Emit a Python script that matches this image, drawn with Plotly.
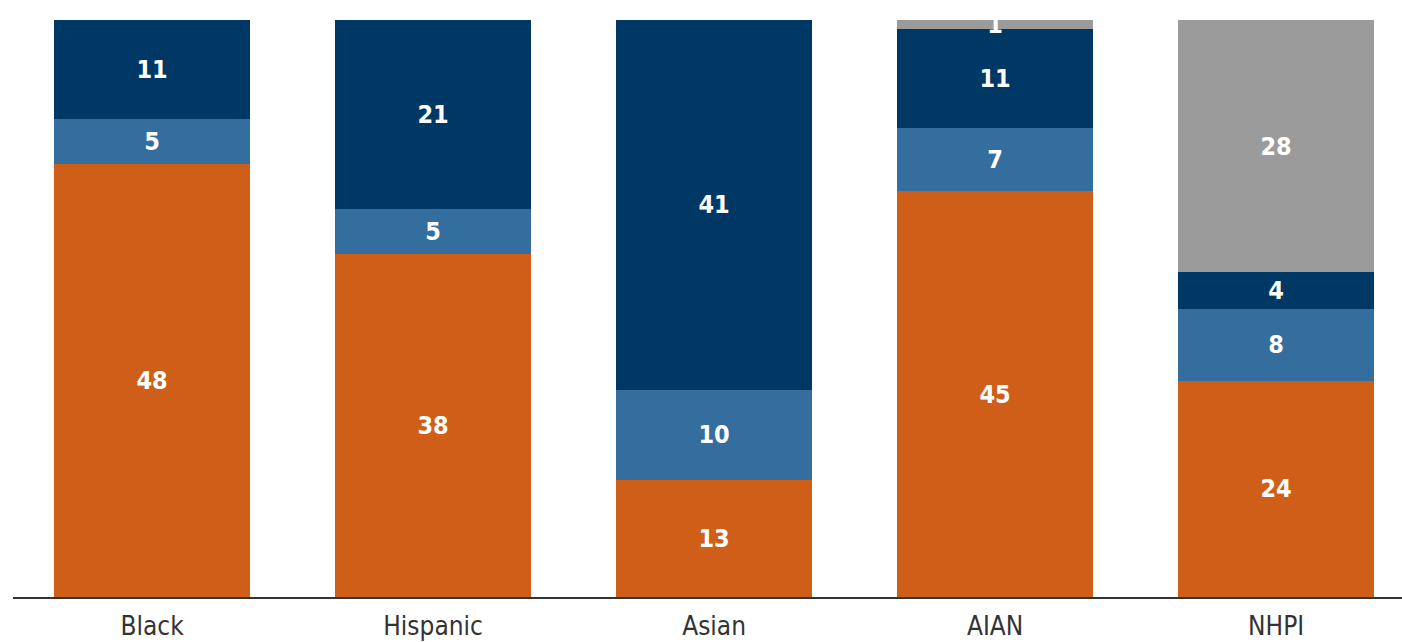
import plotly.graph_objects as go

# Groups along the x axis
groups = ["Black", "Hispanic", "Asian", "AIAN", "NHPI"]

# Stacked segments, bottom to top
seg_orange = [48, 38, 13, 45, 24]
seg_light_blue = [5, 5, 10, 7, 8]
seg_dark_blue = [11, 21, 41, 11, 4]
seg_gray = [0, 0, 0, 1, 28]

series = [
    ("orange", seg_orange, "#CF5F18"),
    ("light blue", seg_light_blue, "#336E9E"),
    ("dark blue", seg_dark_blue, "#003865"),
    ("gray", seg_gray, "#9B9B9B"),
]

FONT = "DejaVu Sans Condensed, Liberation Sans Narrow, DejaVu Sans"

fig = go.Figure()
for name, vals, color in series:
    labels = [f"<b>{v}</b>" if v > 0 else "" for v in vals]
    fig.add_trace(go.Bar(
        x=groups,
        y=vals,
        name=name,
        marker=dict(color=color, line=dict(width=0)),
        text=labels,
        textposition="inside",
        insidetextanchor="middle",
        textangle=0,
        constraintext="none",
        textfont=dict(family=FONT, size=25, color="white"),
        hoverinfo="skip",
    ))

fig.update_layout(
    barmode="stack",
    bargap=0.30,
    width=1402,
    height=642,
    margin=dict(l=13, r=0, t=20, b=45),
    paper_bgcolor="white",
    plot_bgcolor="white",
    showlegend=False,
    uniformtext=dict(mode=False),
    xaxis=dict(
        range=[-0.495, 4.448],
        automargin=False,
        showgrid=False,
        showline=True,
        linecolor="#333333",
        linewidth=1.5,
        ticks="",
        ticklabelstandoff=5,
        tickfont=dict(family=FONT, size=26, color="#333333"),
        zeroline=False,
    ),
    yaxis=dict(
        range=[0, 64],
        visible=False,
        showgrid=False,
        zeroline=False,
    ),
)

fig.write_html("out.html")
